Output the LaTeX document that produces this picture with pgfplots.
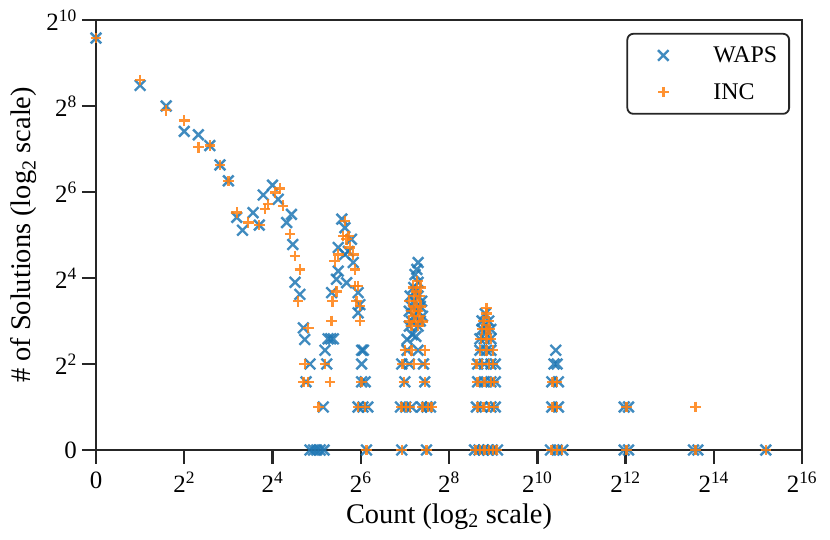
\documentclass[border=0pt]{standalone}
\usepackage{fontspec}
\setmainfont{Liberation Serif}
\usepackage{pgfplots}
\pgfplotsset{compat=1.18}
\definecolor{waps}{HTML}{1F77B4}
\definecolor{inc}{HTML}{FF7F0E}
\definecolor{spine}{HTML}{262626}
\begin{document}
\begin{tikzpicture}
\begin{axis}[
  width=706bp, height=430bp, scale only axis,
  xmin=0, xmax=16, ymin=0, ymax=10,
  xtick={0,2,...,16}, ytick={0,2,...,10},
  xticklabels={0,2\textsuperscript{2},2\textsuperscript{4},2\textsuperscript{6},2\textsuperscript{8},2\textsuperscript{10},2\textsuperscript{12},2\textsuperscript{14},2\textsuperscript{16}},
  yticklabels={0,2\textsuperscript{2},2\textsuperscript{4},2\textsuperscript{6},2\textsuperscript{8},2\textsuperscript{10}},
  minor tick num=0,
  axis line style={spine, line width=2.5bp},
  tick style={spine, line width=2.5bp},
  major tick length=14bp,
  tick align=outside,
  tick pos=left,
  clip=false,
  ticklabel style={font=\fontsize{25}{30}\selectfont},
  xticklabel style={inner ysep=8bp},
  yticklabel style={inner xsep=5bp},
  every axis x label/.style={at={(axis description cs:0.5,-0.1698)},anchor=base},
  every axis y label/.style={at={(axis description cs:-0.0921,0.5)},rotate=90,anchor=base},
  label style={font=\fontsize{28.5}{34}\selectfont},
  xlabel={Count (log\textsubscript{2} scale)},
  ylabel={\# of Solutions (log\textsubscript{2} scale)},
  legend style={at={(0.983,0.970)}, anchor=north east,
    draw=spine, line width=1.8bp, rounded corners=6bp,
    font=\fontsize{24}{28}\selectfont,
    inner xsep=10bp, inner ysep=11bp, row sep=15.4bp},
  legend cell align=left,
  legend image code/.code={\path[draw=none,fill=none] (0bp,0bp) -- (74bp,0bp); \draw[#1,only marks,line width=2.4bp,mark options={line width=2.4bp}] plot coordinates {(26bp,0bp)};},
]
\addplot[only marks, mark=x, mark size=7.5bp, line width=2.4bp, mark options={line width=2.4bp}, color=waps, opacity=0.85] coordinates {
(0,9.58) (1.0,8.48) (1.59,8.0) (2.0,7.41) (2.32,7.33) (2.58,7.08) (2.81,6.63) (3.0,6.26)
(3.19,5.41) (3.32,5.11) (3.56,5.52) (3.7,5.23) (3.79,5.93) (4.0,6.16) (4.13,5.83) (4.32,5.29)
(4.43,5.48) (4.46,4.78) (4.51,3.9) (4.62,3.62) (4.7,2.84) (4.73,2.57) (4.85,2.0) (4.76,1.585)
(5.15,1.0) (4.85,0) (4.93,0) (5.0,0) (5.08,0) (5.17,0) (5.26,2.585) (5.32,2.585) (5.38,2.585)
(5.19,2.32) (5.23,2.0) (5.34,3.66) (5.45,3.97) (5.49,4.16) (5.49,4.71) (5.57,5.37) (5.64,5.17)
(5.64,4.55) (5.72,4.62) (5.68,3.89) (5.79,4.9) (5.83,4.36) (5.94,3.66) (5.98,3.38) (5.94,3.19)
(6.02,2.32) (6.06,2.32) (6.02,2.0) (6.02,1.585) (6.1,1.585) (5.94,1.0) (6.05,1.0) (6.16,1.0) (6.13,0)
(6.93,0) (7.49,0) (6.9,1) (7.02,1) (7.15,1) (7.38,1) (7.5,1) (7.58,1) (7.0,1.585) (7.45,1.585)
(6.93,2) (7.1,2) (7.42,2) (7.05,2.32) (7.3,2.32) (7.05,2.57) (7.17,2.68) (7.25,2.64)
(7.1,2.88) (7.3,2.88) (7.15,2.99) (7.35,3.0) (7.2,3.11) (7.4,3.11) (7.1,3.23) (7.3,3.23)
(7.15,3.34) (7.35,3.34) (7.2,3.46) (7.38,3.46) (7.12,3.58) (7.3,3.58) (7.25,3.69) (7.2,3.78)
(7.3,3.9) (7.23,4.08) (7.27,4.2) (7.3,4.36)
(8.58,0) (8.68,0) (8.78,0) (8.88,0) (8.98,0) (9.1,0)
(8.62,1) (8.75,1) (8.95,1) (9.05,1)
(8.65,1.585) (8.8,1.585) (8.95,1.585) (9.05,1.585)
(8.65,2) (8.8,2) (8.95,2) (9.05,2)
(8.7,2.32) (8.85,2.32) (8.95,2.32)
(8.7,2.585) (8.8,2.585) (8.95,2.585)
(8.75,2.807) (8.85,2.807) (8.95,2.807)
(8.75,3) (8.9,3) (8.82,3.17)
(10.3,0) (10.45,0) (10.58,0) (10.33,1) (10.48,1) (10.33,1.585) (10.48,1.585)
(10.38,2) (10.45,2) (10.42,2.32)
(11.97,0) (12.07,0) (11.97,1) (12.07,1)
(13.54,0) (13.64,0) (15.18,0)
};
\addlegendentry{WAPS}
\addplot[only marks, mark=+, mark size=5.3bp, line width=2.4bp, mark options={line width=2.4bp}, color=inc, opacity=0.85] coordinates {
(0,9.58) (1.0,8.6) (1.59,7.9) (2.0,7.66) (2.32,7.04) (2.58,7.08) (2.81,6.63) (3.0,6.26)
(3.19,5.52) (3.45,5.29) (3.7,5.23) (3.83,5.6) (3.9,5.72) (4.06,5.99) (4.17,6.08) (4.24,5.68)
(4.4,5.02) (4.51,4.51) (4.62,4.2) (4.58,3.46) (4.81,2.84) (4.73,2.0) (4.7,1.585) (4.81,1.585)
(5.04,1.0) (5.34,3.0) (5.36,3.46) (5.19,2.0) (5.3,1.585) (5.41,4.39) (5.45,3.69) (5.49,4.55)
(5.6,4.98) (5.64,5.33) (5.68,4.9) (5.72,4.98) (5.75,4.71) (5.83,4.55) (5.87,4.2) (5.87,3.81)
(5.94,3.81) (5.9,3.46) (5.98,3.35) (5.98,3.0) (6.02,1.585) (5.94,1.0) (6.1,1.0) (6.13,0)
(6.93,0) (7.49,0) (6.92,1) (7.02,1) (7.12,1) (7.4,1) (7.52,1) (7.6,1) (6.98,1.585) (7.45,1.585)
(6.95,2) (7.2,2) (7.45,2) (7.0,2.32) (7.15,2.32) (7.45,2.32)
(7.15,2.88) (7.3,2.88) (7.1,2.99) (7.25,2.99) (7.4,2.99) (7.2,3.11) (7.33,3.11) (7.15,3.23)
(7.3,3.23) (7.22,3.34) (7.35,3.34) (7.1,3.46) (7.27,3.46) (7.2,3.58) (7.33,3.58) (7.25,3.69)
(7.18,3.78) (7.35,3.78) (7.28,3.93)
(8.6,0) (8.7,0) (8.8,0) (8.9,0) (9.0,0) (9.08,0)
(8.65,1) (8.78,1) (8.9,1) (9.02,1)
(8.65,1.585) (8.8,1.585) (8.95,1.585) (9.02,1.585)
(8.62,2) (8.75,2) (8.9,2) (9.0,2)
(8.7,2.32) (8.85,2.32) (9.0,2.32)
(8.72,2.585) (8.85,2.585) (8.95,2.585)
(8.75,2.807) (8.85,2.807) (8.92,2.807)
(8.78,3) (8.9,3) (8.85,3.17) (8.85,3.3)
(10.32,0) (10.45,0) (10.56,0) (10.35,1) (10.45,1) (10.35,1.585) (10.45,1.585)
(12.02,0) (12.02,1) (13.59,0) (13.59,1) (15.18,0)
};
\addlegendentry{INC}
\end{axis}
\pgfresetboundingbox
\path[use as bounding box] (current axis.south west) ++(-96bp,-90bp) rectangle ++(830bp,540bp);
\end{tikzpicture}
\end{document}
